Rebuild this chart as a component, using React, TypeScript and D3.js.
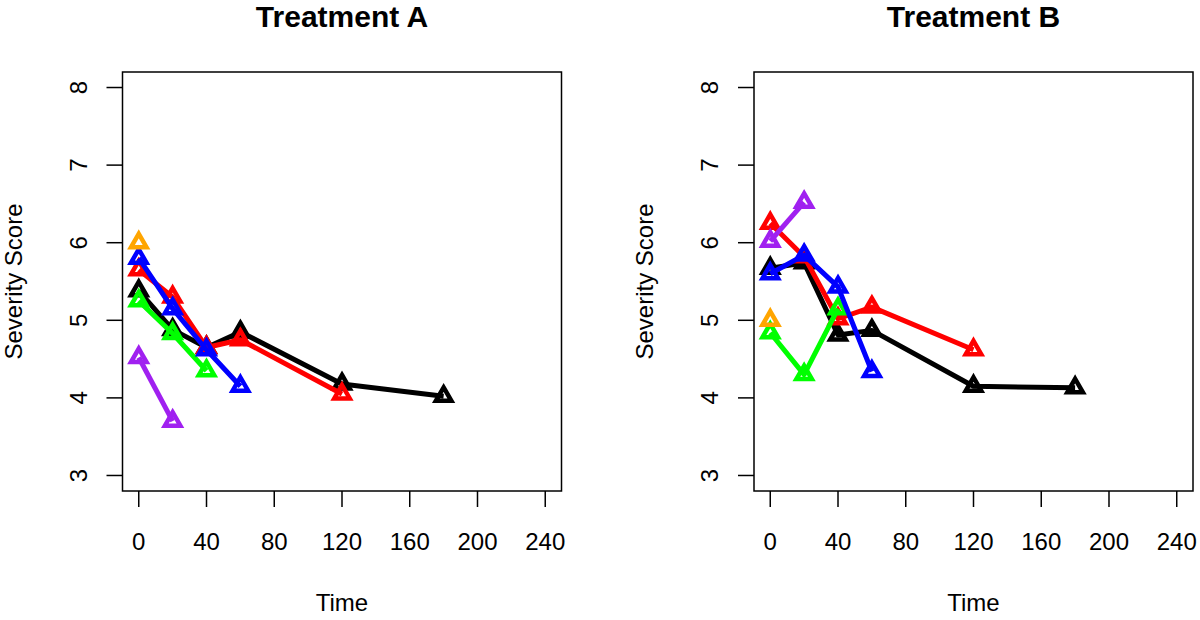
import React from "react";
import * as d3 from "d3";

const timesA = {
  black: [0, 20, 40, 60, 120, 180],
  red: [0, 20, 40, 60, 120],
  green: [0, 20, 40],
  blue: [0, 20, 40, 60],
  purple: [0, 20],
  orange: [0],
};
const valuesA = {
  black: [5.38, 4.88, 4.65, 4.85, 4.18, 4.02],
  red: [5.65, 5.3, 4.65, 4.75, 4.05],
  green: [5.25, 4.83, 4.35],
  blue: [5.8, 5.15, 4.62, 4.15],
  purple: [4.52, 3.7],
  orange: [6.0],
};
const timesB = {
  black: [0, 20, 40, 60, 120, 180],
  red: [0, 20, 40, 60, 120],
  green: [0, 20, 40],
  blue: [0, 20, 40, 60],
  purple: [0, 20],
  orange: [0],
};
const valuesB = {
  black: [5.67, 5.74, 4.81, 4.87, 4.15, 4.13],
  red: [6.25, 5.82, 5.02, 5.17, 4.62],
  green: [4.84, 4.3, 5.15],
  blue: [5.6, 5.84, 5.43, 4.34],
  purple: [6.02, 6.52],
  orange: [5.0],
};
const seriesOrder = ["black", "red", "green", "blue", "purple", "orange"];
const seriesColors: Record<string, string> = {
  black: "#000000",
  red: "#FF0000",
  green: "#00FF00",
  blue: "#0000FF",
  purple: "#A020F0",
  orange: "#FFA500",
};
const xTicks = [0, 40, 80, 120, 160, 200, 240];
const yTicks = [3, 4, 5, 6, 7, 8];
const titles = ["Treatment A", "Treatment B"];
const xLabel = "Time";
const yLabel = "Severity Score";

const FONT = "'Liberation Sans', Arial, Helvetica, sans-serif";

function Panel({ left, title, times, values }: { left: number; title: string; times: any; values: any }) {
  const boxL = left;
  const boxR = left + 439;
  const boxT = 72;
  const boxB = 491;
  const x = d3.scaleLinear().domain([-9.6, 249.6]).range([boxL, boxR]);
  const y = d3.scaleLinear().domain([2.8, 8.2]).range([boxB, boxT]);
  const line = d3
    .line<[number, number]>()
    .x((d) => x(d[0]))
    .y((d) => y(d[1]));
  const tri = (cx: number, cy: number) => {
    const s = 15.5;
    const h = (s * Math.sqrt(3)) / 2;
    return `M${cx},${cy - (2 * h) / 3}L${cx + s / 2},${cy + h / 3}L${cx - s / 2},${cy + h / 3}Z`;
  };
  const cx = (boxL + boxR) / 2;
  const cy = (boxT + boxB) / 2;
  return (
    <g>
      <text x={cx} y={27} textAnchor="middle" fontFamily={FONT} fontWeight="bold" fontSize={30}>
        {title}
      </text>
      <rect x={boxL} y={boxT} width={boxR - boxL} height={boxB - boxT} fill="none" stroke="#000" strokeWidth={1.5} />
      {xTicks.map((t) => (
        <g key={"x" + t}>
          <line x1={x(t)} x2={x(t)} y1={boxB} y2={boxB + 16} stroke="#000" strokeWidth={1.5} />
          <text x={x(t)} y={550} textAnchor="middle" fontFamily={FONT} fontSize={24}>
            {t}
          </text>
        </g>
      ))}
      {yTicks.map((t) => (
        <g key={"y" + t}>
          <line x1={boxL - 16} x2={boxL} y1={y(t)} y2={y(t)} stroke="#000" strokeWidth={1.5} />
          <text
            transform={`translate(${boxL - 36},${y(t)}) rotate(-90)`}
            textAnchor="middle"
            fontFamily={FONT}
            fontSize={24}
          >
            {t}
          </text>
        </g>
      ))}
      <text x={cx} y={611} textAnchor="middle" fontFamily={FONT} fontSize={24}>
        {xLabel}
      </text>
      <text
        transform={`translate(${boxL - 101},${cy}) rotate(-90)`}
        textAnchor="middle"
        fontFamily={FONT}
        fontSize={24}
      >
        {yLabel}
      </text>
      {seriesOrder.map((k) => {
        const pts: [number, number][] = times[k].map((t: number, i: number) => [t, values[k][i]]);
        return (
          <g key={k}>
            <path d={line(pts) || ""} fill="none" stroke={seriesColors[k]} strokeWidth={5} strokeLinejoin="round" />
            {pts.map((p, i) => (
              <path key={i} d={tri(x(p[0]), y(p[1]))} fill="none" stroke={seriesColors[k]} strokeWidth={4.5} strokeLinejoin="miter" />
            ))}
          </g>
        );
      })}
    </g>
  );
}

export default function App() {
  return (
    <svg width={1200} height={620} style={{ position: "absolute", left: 0, top: 0, background: "#fff" }}>
      <rect width={1200} height={620} fill="#fff" />
      <Panel left={122.5} title={titles[0]} times={timesA} values={valuesA} />
      <Panel left={754} title={titles[1]} times={timesB} values={valuesB} />
    </svg>
  );
}
